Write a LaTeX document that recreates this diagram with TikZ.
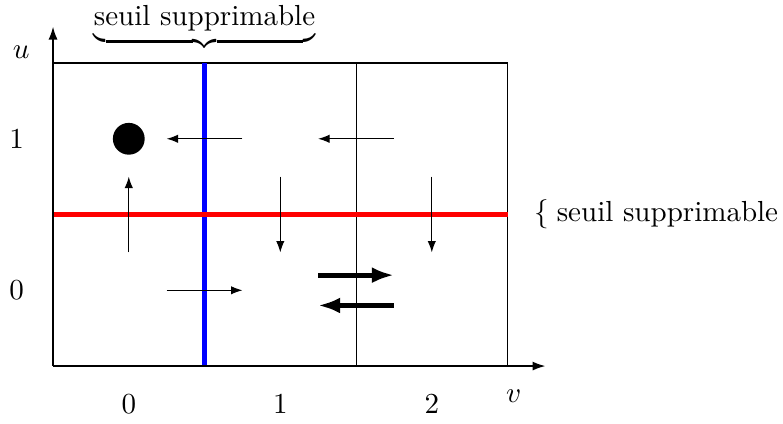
\documentclass[tikz,border=0pt]{standalone}
\usetikzlibrary{arrows.meta}
\begin{document}
\begin{tikzpicture}[x=2cm,y=2cm,
  lbl/.style={font=\fontsize{10.9}{13}\selectfont, inner sep=1pt},
  thinarrow/.style={-{Latex[length=1.5mm,width=1.1mm]}, line width=0.4pt},
  thickarrow/.style={-{Latex[length=2.9mm,width=2.1mm]}, line width=1.9pt},
  axis/.style={-{Latex[length=1.7mm,width=1.2mm]}, line width=0.6pt}]
\useasboundingbox (-0.35,-0.376) rectangle (4.818,2.416);
% box and grid
\draw[line width=0.4pt] (0,2) -- (3,2) -- (3,0);
\draw[line width=0.4pt] (2,0) -- (2,2);
\draw[blue, line width=1.6pt] (1,0) -- (1,2);
\draw[red, line width=1.6pt] (0,1) -- (3,1);
% axes
\coordinate (O) at (0,0);
\coordinate (xe) at (3.25,0);
\coordinate (ye) at (0,2.24);
\draw[axis] (O) -- (xe);
\draw[axis] (O) -- (ye);
% labels
\node[lbl] (u) at (-0.21,2.07) {$u$};
\node[lbl] (v) at (3.04,-0.2) {$v$};
\node[lbl] (x0) at (0.5,-0.25) {0};
\node[lbl] (x1) at (1.5,-0.25) {1};
\node[lbl] (x2) at (2.5,-0.25) {2};
\node[lbl] (y1) at (-0.24,1.5) {1};
\node[lbl] (y0) at (-0.24,0.5) {0};
\node[lbl, anchor=south] (top) at (1,2.06) {$\underbrace{\mbox{seuil supprimable}}$};
\node[lbl, anchor=west] (right) at (3.155,1) {$\{$\hspace{3pt}seuil supprimable};
% dot
\fill (0.5,1.5) circle (0.105);
% arrows
\coordinate (a1s) at (1.25,1.5); \coordinate (a1e) at (0.75,1.5);
\coordinate (a2s) at (2.25,1.5); \coordinate (a2e) at (1.75,1.5);
\coordinate (a3s) at (0.5,0.75); \coordinate (a3e) at (0.5,1.25);
\coordinate (a4s) at (1.5,1.25); \coordinate (a4e) at (1.5,0.75);
\coordinate (a5s) at (2.5,1.25); \coordinate (a5e) at (2.5,0.75);
\coordinate (a6s) at (0.75,0.5); \coordinate (a6e) at (1.25,0.5);
\coordinate (b1s) at (1.75,0.6); \coordinate (b1e) at (2.25,0.6);
\coordinate (b2s) at (2.25,0.4); \coordinate (b2e) at (1.75,0.4);
\draw[thinarrow] (a1s) -- (a1e);
\draw[thinarrow] (a2s) -- (a2e);
\draw[thinarrow] (a3s) -- (a3e);
\draw[thinarrow] (a4s) -- (a4e);
\draw[thinarrow] (a5s) -- (a5e);
\draw[thinarrow] (a6s) -- (a6e);
\draw[thickarrow] (b1s) -- (b1e);
\draw[thickarrow] (b2s) -- (b2e);
\end{tikzpicture}
\end{document}
